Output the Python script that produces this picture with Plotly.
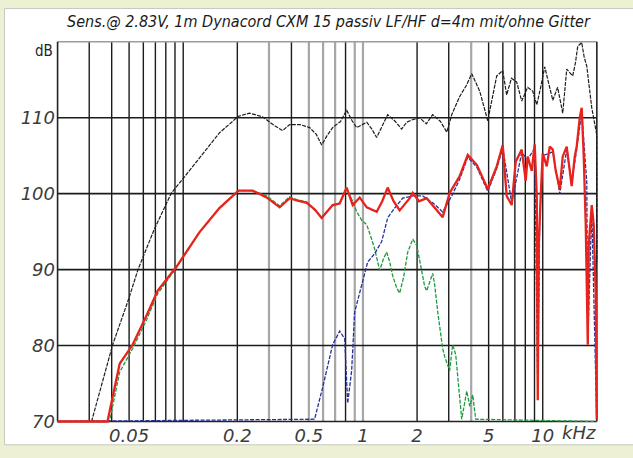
import math
import plotly.graph_objects as go

# Frequency response, 2.83 V / 1 m, Dynacord CXM 15 (passive LF/HF)
freq_black = [30.9, 34.4, 40.5, 50, 56, 69, 86, 100, 123, 159, 203, 234, 277, 320, 357, 391,
              445, 505, 550, 589, 630, 678, 750, 811, 870, 923, 1050, 1120, 1192, 1280, 1372,
              1500, 1641, 1750, 1867, 2066, 2250, 2442, 2700, 2925, 3118, 3452, 3750, 4029,
              4460, 4944, 5250, 5548, 5991, 6300, 6700, 7165, 7640, 8248, 8795, 9267, 9700,
              10264, 10800, 11377, 12100, 12924, 13599, 14682, 15200, 15656, 16476, 17000,
              17579, 18744, 19964, 20000]
db_black = [70, 74.0, 80.1, 86.3, 90.0, 95.3, 100.1, 102.0, 104.7, 108.0, 110.2, 110.6, 110.1,
            109.0, 108.3, 109.1, 109.1, 108.7, 107.8, 106.4, 107.6, 108.7, 109.5, 111.0, 109.6,
            108.7, 109.4, 108.5, 107.4, 108.9, 110.4, 109.6, 108.5, 109.4, 109.7, 110.0, 109.2,
            110.4, 109.5, 108.1, 110.4, 112.8, 114.2, 115.8, 113.5, 109.6, 112.5, 115.5, 116.2,
            113.0, 115.2, 114.7, 112.2, 114.0, 113.5, 111.7, 113.8, 116.7, 114.5, 112.3, 114.0,
            110.6, 116.4, 115.5, 117.2, 119.4, 119.9, 118.0, 116.8, 111.3, 107.8, 91.0]

freq_red = [20, 37.9, 44.3, 52.3, 62.6, 72, 91.9, 123, 159, 203, 243, 291, 344, 391, 428, 487,
            540, 589, 678, 742, 811, 877, 959, 1050, 1192, 1280, 1372, 1480, 1600, 1820, 1892,
            2050, 2261, 2500, 2776, 3036, 3452, 3828, 4297, 4944, 5548, 5991, 6302, 6719, 7075,
            7640, 8044, 8248, 8685, 9021, 9267, 9385, 9501, 9747, 10000, 10530, 10944, 11377,
            11815, 12443, 12924, 13599, 14137, 14491, 15070, 15452, 16070, 16476, 16914, 17353,
            17808, 18031, 18744, 19214, 19713, 19964]
db_red = [70, 70, 77.6, 80.1, 84.0, 87.2, 90.4, 94.9, 98.1, 100.4, 100.4, 99.5, 98.2, 99.4,
          99.1, 98.8, 97.9, 96.8, 98.5, 98.7, 100.8, 98.5, 99.5, 98.2, 97.6, 99.0, 100.8, 99.0,
          97.8, 99.4, 100.1, 99.0, 99.4, 98.2, 96.9, 100.1, 102.3, 105.1, 103.8, 100.6, 103.6,
          106.4, 99.7, 98.5, 104.2, 105.8, 101.7, 104.9, 103.0, 106.5, 99.7, 72.8, 93.3, 99.7,
          105.3, 103.6, 106.2, 105.8, 103.0, 100.6, 104.9, 106.2, 103.0, 101.0, 104.9, 106.2,
          110.0, 111.3, 104.9, 95.9, 80.1, 93.3, 98.5, 95.9, 86.9, 70.3]

freq_blue = [20, 538, 597, 678, 742, 791, 822, 865, 899, 984, 1062, 1162, 1271, 1372, 1500,
             1663, 1892, 2148, 2442, 2776, 3118, 3452, 3828, 4297, 4944, 5548, 5991, 6719, 7640,
             8248, 9021, 9385, 9625, 10000, 11377, 12443, 13599, 14491, 15452, 16476, 17579,
             17808, 18744, 19964]
db_blue = [70, 70.3, 74.5, 80.1, 81.9, 80.9, 72.4, 76.7, 84.4, 88.2, 91.0, 92.1, 93.7, 96.8,
           98.1, 99.4, 99.7, 99.7, 98.8, 97.6, 99.7, 101.9, 104.8, 103.5, 100.3, 103.3, 106.0,
           98.8, 105.4, 104.5, 106.0, 74.0, 96.6, 105.0, 105.5, 100.0, 105.8, 101.5, 105.8,
           110.8, 101.5, 80.5, 98.0, 70.3]

freq_green = [20, 38.9, 44.3, 52.3, 62.6, 72, 91.9, 123, 159, 203, 243, 291, 344, 391, 428, 487,
              589, 678, 742, 811, 877, 923, 984, 1050, 1118, 1162, 1239, 1304, 1355, 1409, 1462,
              1539, 1600, 1683, 1774, 1892, 1991, 2094, 2204, 2261, 2350, 2442, 2506, 2606, 2776,
              2851, 3036, 3155, 3281, 3365, 3541, 3682, 3778, 3928, 4078, 4238, 20000]
db_green = [70, 70, 76.5, 79.6, 83.4, 86.8, 90.3, 94.9, 98.1, 100.4, 100.4, 99.7, 98.4, 99.6,
            99.2, 98.9, 96.9, 98.4, 98.8, 100.6, 99.0, 97.6, 96.5, 95.9, 94.0, 92.7, 89.9, 91.5,
            92.3, 91.0, 89.2, 87.6, 86.9, 89.0, 92.3, 94.0, 93.2, 90.5, 87.8, 87.2, 88.5, 89.5,
            88.0, 84.4, 79.6, 78.5, 76.7, 80.1, 78.8, 76.2, 70.3, 72.5, 74.0, 72.0, 73.5, 70.3, 70]

# Grid and axis labels
grid_black_hz = [30, 40, 50, 60, 70, 80, 90, 100, 200, 400, 800, 2000, 3000, 5000, 6000, 7000,
                 8000, 9000, 10000]
grid_gray_hz = [300, 500, 600, 700, 900, 1000, 4000]
grid_db = [80, 90, 100, 110]
x_tick_hz = [50, 200, 500, 1000, 2000, 5000, 10000]
x_tick_text = ["0.05", "0.2", "0.5", "1", "2", "5", "10"]
y_ticks = [70, 80, 90, 100, 110]
f_min, f_max = 20, 20000
db_min, db_max = 70, 120

title_text = "Sens.@ 2.83V, 1m Dynacord CXM 15 passiv LF/HF d=4m mit/ohne Gitter"


def vlines(freqs):
    xs, ys = [], []
    for f in freqs:
        xs += [f, f, None]
        ys += [db_min, db_max, None]
    return xs, ys


def hlines(levels):
    xs, ys = [], []
    for d in levels:
        xs += [f_min, f_max, None]
        ys += [d, d, None]
    return xs, ys


fig = go.Figure()

gx, gy = vlines(grid_gray_hz)
fig.add_trace(go.Scatter(x=gx, y=gy, mode="lines", line=dict(color="#a6a6a6", width=2.2),
                         hoverinfo="skip"))
gx, gy = vlines(grid_black_hz)
fig.add_trace(go.Scatter(x=gx, y=gy, mode="lines", line=dict(color="#1c1c1c", width=1.4),
                         hoverinfo="skip"))
gx, gy = hlines(grid_db)
fig.add_trace(go.Scatter(x=gx, y=gy, mode="lines", line=dict(color="#1c1c1c", width=1.6),
                         hoverinfo="skip"))
# frame: top (gray), left / bottom / right (dark)
fig.add_trace(go.Scatter(x=[f_min, f_max], y=[db_max, db_max], mode="lines",
                         line=dict(color="#9c9c9c", width=1.5), hoverinfo="skip"))
fig.add_trace(go.Scatter(x=[f_min, f_min, None, f_min, f_max, None, f_max, f_max],
                         y=[db_max, db_min, None, db_min, db_min, None, db_min, db_max],
                         mode="lines", line=dict(color="#222222", width=1.6), hoverinfo="skip"))

fig.add_trace(go.Scatter(x=freq_black, y=db_black, mode="lines",
                         line=dict(color="#1e1e1e", width=1.2, dash="4px,1.2px")))
fig.add_trace(go.Scatter(x=freq_green, y=db_green, mode="lines",
                         line=dict(color="#1f9a3e", width=1.3, dash="4px,1.5px")))
fig.add_trace(go.Scatter(x=freq_blue, y=db_blue, mode="lines",
                         line=dict(color="#26309a", width=1.3, dash="4px,1.5px")))
fig.add_trace(go.Scatter(x=freq_red, y=db_red, mode="lines",
                         line=dict(color="#e8221c", width=2.3)))

tick_font = dict(family="DejaVu Sans", size=18, color="#3c3c3c", style="italic")

fig.update_layout(
    width=633, height=458,
    margin=dict(l=56, r=35, t=41, b=24),
    paper_bgcolor="#eef0d4",
    plot_bgcolor="white",
    showlegend=False,
    xaxis=dict(type="log", range=[math.log10(19.6), math.log10(20300)],
               tickvals=x_tick_hz, ticktext=x_tick_text, tickfont=tick_font,
               showgrid=False, zeroline=False, showline=False, ticks=""),
    yaxis=dict(range=[69.8, 120.1], tickvals=y_ticks, tickfont=tick_font,
               showgrid=False, zeroline=False, showline=False, ticks=""),
    shapes=[dict(type="rect", xref="paper", yref="paper", layer="below",
                 x0=-0.095, x1=1.1, y0=-0.057, y1=1.085,
                 fillcolor="white", line=dict(color="#c6cac2", width=1))],
    annotations=[
        dict(text=title_text, xref="paper", yref="paper", x=0.503, y=1.052,
             xanchor="center", yanchor="middle", showarrow=False,
             font=dict(family="DejaVu Sans Condensed, DejaVu Sans", size=16,
                       color="#1a1a1a", style="italic")),
        dict(text="dB", xref="paper", yref="paper", x=0, y=0.975, xshift=-1,
             xanchor="right", yanchor="middle", showarrow=False,
             font=dict(family="DejaVu Sans Condensed, DejaVu Sans", size=15, color="#222222")),
        dict(text="kHz", xref="paper", yref="paper", x=0.929, y=-0.025,
             xanchor="left", yanchor="middle", showarrow=False, font=tick_font),
    ],
)

fig.write_html("out.html")
